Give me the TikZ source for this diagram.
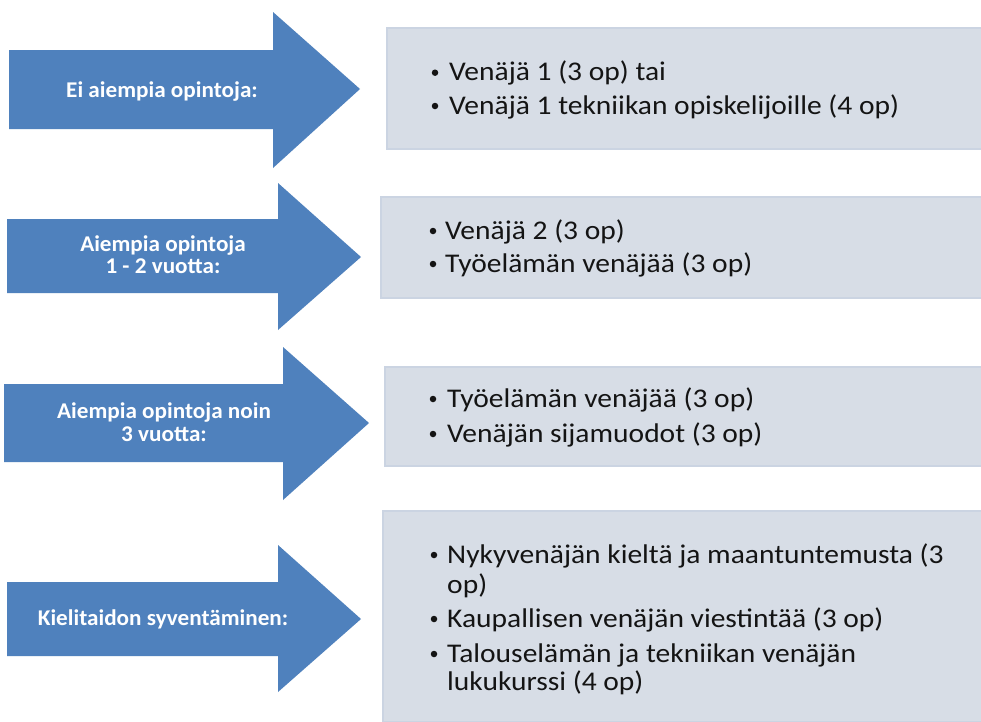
\documentclass[tikz,border=0pt]{standalone}
\usepackage{fontspec}
\setmainfont{Carlito}
\newfontfamily\bodyfont[FakeStretch=1.093]{Carlito}
\newfontfamily\labfont[FakeStretch=1.03]{Carlito}
\definecolor{arrowblue}{HTML}{4F81BD}
\definecolor{boxfill}{HTML}{D7DDE6}
\definecolor{boxedge}{HTML}{CBD4E2}
\definecolor{inktext}{HTML}{141414}
\begin{document}
\begin{tikzpicture}[x=1pt,y=-1pt,
  arrowshape/.style={fill=arrowblue},
  panel/.style={fill=boxfill, draw=boxedge, line width=1.5pt},
  lab/.style={anchor=base, text=white, inner sep=0, font=\labfont\bfseries\fontsize{22.5}{23}\selectfont},
  item/.style={anchor=base west, inner sep=0, text=inktext, font=\bodyfont\fontsize{27}{29}\selectfont},
  dot/.style={circle, fill=inktext, inner sep=0, minimum size=6.5pt}]
\useasboundingbox (0,0) rectangle (981,721);
\fill[white] (0,0) rectangle (981,721);

% arrows
\path[arrowshape] (9,50) -- (273,50) -- (273,12) -- (360,89) -- (273,168) -- (273,129) -- (9,129) -- cycle;
\path[arrowshape] (7,219) -- (278,219) -- (278,183) -- (361,257) -- (278,330) -- (278,293) -- (7,293) -- cycle;
\path[arrowshape] (4,384) -- (283,384) -- (283,347) -- (369,423) -- (283,500) -- (283,462) -- (4,462) -- cycle;
\path[arrowshape] (7,582) -- (278,582) -- (278,545) -- (361,619) -- (278,692) -- (278,656) -- (7,656) -- cycle;

% arrow labels
\node[lab] (a1) at (162,97) {Ei aiempia opintoja:};
\node[lab] (a2a) at (163,251) {Aiempia opintoja};
\node[lab] (a2b) at (163,273) {1 - 2 vuotta:};
\node[lab] (a3a) at (164,418) {Aiempia opintoja noin};
\node[lab] (a3b) at (164,441) {3 vuotta:};
\node[lab] (a4) at (163,625) {Kielitaidon syventäminen:};

% panels
\path[panel] (387,28) rectangle (982,149);
\path[panel] (381,197) rectangle (982,298);
\path[panel] (385,367) rectangle (982,466);
\path[panel] (383,511) rectangle (982,722);

% panel 1
\node[dot] (d11) at (435,72.7) {};
\node[item] (t11) at (449,80.7) {Venäjä 1 (3 op) tai};
\node[dot] (d12) at (435,106) {};
\node[item] (t12) at (449,114) {Venäjä 1 tekniikan opiskelijoille (4 op)};

% panel 2
\node[dot] (d21) at (433,231) {};
\node[item] (t21) at (445,239) {Venäjä 2 (3 op)};
\node[dot] (d22) at (433,264) {};
\node[item] (t22) at (445,272) {Työelämän venäjää (3 op)};

% panel 3
\node[dot] (d31) at (433,399) {};
\node[item] (t31) at (447,407) {Työelämän venäjää (3 op)};
\node[dot] (d32) at (433,434) {};
\node[item] (t32) at (447,442) {Venäjän sijamuodot (3 op)};

% panel 4
\node[dot] (d41) at (434,555) {};
\node[item] (t41) at (447,563) {Nykyvenäjän kieltä ja maantuntemusta (3};
\node[item] (t41b) at (447,593) {op)};
\node[dot] (d42) at (434,619) {};
\node[item] (t42) at (447,627) {Kaupallisen venäjän viestintää (3 op)};
\node[dot] (d43) at (434,654) {};
\node[item] (t43) at (447,662) {Talouselämän ja tekniikan venäjän};
\node[item] (t43b) at (447,690) {lukukurssi (4 op)};
\end{tikzpicture}
\end{document}
